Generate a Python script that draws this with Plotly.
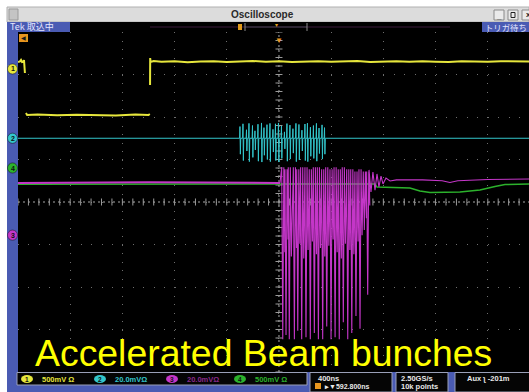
import plotly.graph_objects as go

W, H = 529, 392

# ---------------- acquisition settings ----------------
time_per_div_ns = 400
t_left, t_right = -2000, 1916          # visible time window (ns), trigger at 0

ch_labels = ["1", "2", "3", "4"]
ch_scale_mv = [500, 20.0, 20.0, 500]    # mV / div
ch_pos_div = [3.13, 1.50, -0.78, 0.80]  # ground marker position (div)
ch_colors = ["#e6e63c", "#33c6cc", "#c436c8", "#2cb22c"]
ch_readout = ["500mV Ω", "20.0mVΩ", "20.0mVΩ", "500mV Ω"]

# ---------------- channel 1 (yellow) ----------------
ch1_t = [-2000, -1985, -1977, -1969, -1958, -1954, -1947, None,
         -1939, -1930, -1850, -1700, -1550, -1400, -1250, -1100, -1000, -990, None,
         -988, -987, -984, -960, -900, -800, -700, -600, -500, -400, -300, -200,
         -100, 0, 100, 200, 300, 400, 500, 600, 700, 800, 900, 1000, 1100, 1200,
         1300, 1400, 1500, 1600, 1700, 1800, 1916]
ch1_mv = [82, 90, 106, 82, 86, 106, -47, None,
          -518, -541, -536, -545, -538, -541, -546, -537, -541, -530, None,
          -189, 129, 82, 94, 84, 90, 80, 88, 92, 82, 86, 94,
          84, 90, 82, 88, 92, 84, 86, 94, 82, 88, 90, 84, 92, 86,
          82, 90, 88, 84, 92, 86, 88]

# ---------------- channel 2 (cyan) : bunch pickup burst ----------------
ch2_base_mv = 0.0
ch2_spike_t = [-299, -276, -249, -230, -203, -184, -161, -134, -115, -92,
               -69, -46, -27, -4, 19, 42, 61, 84, 107, 130,
               153, 176, 199, 218, 241, 264, 287, 307, 330, 349]
ch2_spike_up = [5.5, 6.8, 4.0, 7.0, 6.0, 3.5, 6.6, 7.2, 5.0, 6.4,
                7.0, 4.2, 6.8, 7.2, 5.8, 3.0, 6.9, 6.2, 4.5, 7.0,
                6.5, 3.8, 6.7, 7.1, 5.2, 6.0, 7.0, 4.8, 6.3, 5.0]
ch2_spike_dn = [-7.5, -10.5, -6.0, -11.0, -9.0, -5.5, -10.8, -11.2, -8.0, -10.0,
                -11.0, -6.5, -10.5, -11.2, -9.5, -5.0, -10.8, -9.8, -7.0, -11.0,
                -10.2, -6.0, -10.5, -11.0, -8.5, -9.5, -10.8, -7.2, -9.8, -7.5]

# ---------------- channel 3 (magenta) : accelerated bunches ----------------
ch3_base_t = [-2000, -1000, 0, 8]
ch3_base_mv = [24.6, 24.9, 24.6, 24.6]
ch3_bunch_t = [21, 46, 71, 110, 136, 166, 199, 232, 263, 294, 327,
               358, 391, 422, 454, 485, 519, 550, 582, 613, 646, 672]
ch3_bunch_top = [32, 31, 32, 32, 31, 32, 32, 31, 32, 32, 31,
                 32, 31, 32, 31, 32, 31, 31, 30, 31, 30, 30]
ch3_bunch_low = [-49, -47, -49, -49, -45, -49, -48, -49, -46, -49, -49,
                 -43, -49, -48, -49, -41, -49, -46, -38, -44, 2.4, -28]
ch3_bunch_mid = [-8, -2, -10, -6, -4, -11, -7, -3, -9, -6, -10,
                 -5, -2, -8, -11, -4, -7, -9, -3, 0, 8, 14]
ch3_ring_t = [690, 705, 720, 736, 751, 766, 782, 797, 820, 851]
ch3_ring_mv = [30.7, 20.3, 29.7, 21.2, 28.8, 22.7, 27.8, 24.1, 26.9, 25.5]
ch3_tail_t = [900, 1100, 1250, 1310, 1370, 1600, 1916]
ch3_tail_mv = [26.0, 26.0, 25.6, 24.8, 25.6, 26.2, 26.4]

# ---------------- channel 4 (green) ----------------
ch4_t = [-2000, -1000, 0, 500, 736, 751, 1004, 1080, 1157, 1387, 1540, 1655, 1732, 1916]
ch4_mv = [-190, -192, -190, -192, -188, -224, -235, -271, -288, -282, -259, -218, -194, -188]


def to_div(values, ch):
    return [None if v is None else ch_pos_div[ch] + v / ch_scale_mv[ch] for v in values]


# build the burst paths from the per-bunch extremes
def cyan_path():
    t, v = [t_left], [ch2_base_mv]
    for ts, up, dn in zip(ch2_spike_t, ch2_spike_up, ch2_spike_dn):
        t += [ts - 3, ts, ts + 3, ts + 6]
        v += [ch2_base_mv, up, dn, ch2_base_mv]
    t.append(t_right)
    v.append(ch2_base_mv)
    return t, v


def magenta_path():
    t, v = [ch3_base_t[-1]], [ch3_base_mv[-1]]
    for ts, top, lo, mid in zip(ch3_bunch_t, ch3_bunch_top, ch3_bunch_low, ch3_bunch_mid):
        t += [ts, ts + 8, ts + 16, ts + 24]
        v += [top, lo, top, mid]
    t += ch3_ring_t + ch3_tail_t
    v += ch3_ring_mv + ch3_tail_mv
    return t, v


fig = go.Figure()

# graticule: centre-line minor ticks
minor = time_per_div_ns / 5
tick_t = [t_left + k * minor for k in range(int((t_right - t_left) / minor) + 1)]
tick_v = [-4 + k * 0.2 for k in range(41)]
fig.add_trace(go.Scatter(x=tick_t, y=[0] * len(tick_t), mode="markers",
                         marker=dict(symbol="line-ns-open", size=5, color="#9a9a9a",
                                     line=dict(width=1, color="#9a9a9a")),
                         hoverinfo="skip", showlegend=False))
fig.add_trace(go.Scatter(x=[0] * len(tick_v), y=tick_v, mode="markers",
                         marker=dict(symbol="line-ew-open", size=5, color="#9a9a9a",
                                     line=dict(width=1, color="#9a9a9a")),
                         hoverinfo="skip", showlegend=False))

# waveforms
fig.add_trace(go.Scatter(x=ch1_t, y=to_div(ch1_mv, 0), mode="lines",
                         line=dict(color=ch_colors[0], width=2), connectgaps=False,
                         showlegend=False))
ct, cv = cyan_path()
fig.add_trace(go.Scatter(x=ct, y=to_div(cv, 1), mode="lines",
                         line=dict(color=ch_colors[1], width=1), showlegend=False))
fig.add_trace(go.Scatter(x=ch4_t, y=to_div(ch4_mv, 3), mode="lines",
                         line=dict(color=ch_colors[3], width=1.5), showlegend=False))
fig.add_trace(go.Scatter(x=ch3_base_t, y=to_div(ch3_base_mv, 2), mode="lines",
                         line=dict(color=ch_colors[2], width=2), showlegend=False))
mt, mv = magenta_path()
fig.add_trace(go.Scatter(x=mt, y=to_div(mv, 2), mode="lines",
                         line=dict(color=ch_colors[2], width=1.1), showlegend=False))


def px(x):
    return x / W


def py(y):
    return 1 - y / H


BLUE = "#4a5bb3"
shapes = []
ann = []


def rect(x0, y0, x1, y1, fill, line=None, lw=1):
    shapes.append(dict(type="rect", xref="paper", yref="paper",
                       x0=px(x0), x1=px(x1), y0=py(y1), y1=py(y0),
                       fillcolor=fill, line=dict(color=line or fill, width=lw if line else 0),
                       layer="above"))


def text(x, y, s, size, color, anchor="left", bold=False, family="Liberation Sans"):
    ann.append(dict(x=px(x), y=py(y), xref="paper", yref="paper", text=f"<b>{s}</b>" if bold else s,
                    showarrow=False, xanchor=anchor, yanchor="middle",
                    font=dict(size=size, color=color, family=family)))


# window title bar
rect(7, 7, 529, 22, "#dcdcdc", "#b0b0b0")
rect(9, 9, 18, 20, "#c4c4c4", "#9a9a9a")
text(262, 15, "Oscilloscope", 10, "#2a2a2a", "center", bold=True)
rect(494, 10, 504, 20, "#eaeaea", "#8a8a8a")
text(499, 16, "_", 8, "#222", "center", bold=True)
rect(508, 10, 518, 20, "#eaeaea", "#8a8a8a")
rect(511, 12.5, 515, 17.5, "#eaeaea", "#222")
rect(522, 10, 532, 20, "#eaeaea", "#8a8a8a")
text(524, 15, "x", 8, "#222", "left", bold=True)

# record-view status bar
rect(7, 22, 70, 32, BLUE)
rect(70, 22, 482, 32, "#000000")
rect(482, 22, 529, 32, BLUE)
text(8, 27, "Tek 取込中", 9, "#e4e6ff", family="Noto Sans CJK JP")
text(483, 27, "トリガ待ち", 8.4, "#e4e6ff", family="Noto Sans CJK JP")
shapes.append(dict(type="line", xref="paper", yref="paper", x0=px(150), x1=px(450), y0=py(27), y1=py(27),
                   line=dict(color="#3a1a3a", width=1), layer="above"))
shapes.append(dict(type="line", xref="paper", yref="paper", x0=px(245), x1=px(307), y0=py(27), y1=py(27),
                   line=dict(color="#3c3c48", width=1), layer="above"))
for bx in (245, 307):
    shapes.append(dict(type="line", xref="paper", yref="paper", x0=px(bx), x1=px(bx), y0=py(23), y1=py(31),
                       line=dict(color="#8a8a8a", width=1), layer="above"))
rect(238, 24, 242, 30, "#e09a1a")
text(276, 25, "▾", 6, "#e0a020", "center")

# left channel-marker strip
rect(7, 32, 18, 372, BLUE)

# trigger position marker and top-left trigger flag
ann.append(dict(x=0, y=1, xref="x", yref="y domain", text="▼", showarrow=False,
                xanchor="center", yanchor="top", font=dict(size=8, color="#e8961e")))
rect(19, 34, 28, 42, "#e8961e")
text(23.5, 38, "◀", 6, "#1a1a1a", "center")

# channel ground markers
for i in range(4):
    y_div = ch_pos_div[i]
    shapes.append(dict(type="circle", xref="paper", yref="y", x0=px(7.5), x1=px(17.5),
                       y0=y_div - 0.12, y1=y_div + 0.12, fillcolor=ch_colors[i],
                       line=dict(color="#101010", width=0.5), layer="above"))
    ann.append(dict(x=px(12.5), y=y_div, xref="paper", yref="y", text=f"<b>{ch_labels[i]}</b>",
                    showarrow=False, xanchor="center", yanchor="middle",
                    font=dict(size=7, color="#101010", family="Liberation Sans")))

# bottom readout bar
rect(7, 372, 529, 392, BLUE)
shapes.append(dict(type="rect", xref="paper", yref="paper", x0=px(17), x1=px(307), y0=py(385), y1=py(372.5),
                   fillcolor="#050505", line=dict(color="#9aa0b8", width=1), layer="above"))
badge_x = [27, 100, 172, 240]
for i in range(4):
    shapes.append(dict(type="circle", xref="paper", yref="paper", x0=px(badge_x[i] - 6), x1=px(badge_x[i] + 6),
                       y0=py(383), y1=py(375), fillcolor=ch_colors[i], line=dict(width=0), layer="above"))
    text(badge_x[i], 379, f"<b>{ch_labels[i]}</b>", 6.5, "#101010", "center")
    text(badge_x[i] + 13, 379, ch_readout[i], 7.5, "#8a2a8a" if i == 2 else ch_colors[i], bold=True)

rect(310, 372.5, 392, 392, "#050505", "#9aa0b8")
text(316, 378, f"{time_per_div_ns}ns", 7.5, "#e8e8e8", bold=True)
rect(315, 383, 321, 389, "#e8961e")
text(322, 386.5, "▸▼592.800ns", 7, "#e8e8e8", bold=True)
rect(396, 372.5, 448, 392, "#050505", "#9aa0b8")
text(399, 378, "2.50GS/s", 7.5, "#e8e8e8", bold=True)
text(399, 386.5, "10k points", 7.5, "#e8e8e8", bold=True)
rect(455, 372.5, 535, 392, "#050505", "#9aa0b8")
text(465, 378, "Aux ʅ -201m", 7.5, "#e8e8e8", bold=True)

# caption
ann.append(dict(x=px(263), y=py(353), xref="paper", yref="paper", text="Accelerated Beam bunches",
                showarrow=False, xanchor="center", yanchor="middle",
                font=dict(size=37.4, color="#ffff00", family="Liberation Sans")))

# graticule centre lines
shapes.append(dict(type="line", xref="x", yref="y", x0=0, x1=0, y0=-4, y1=4,
                   line=dict(color="#a8a8a8", width=1, dash="2px,3px"), layer="below"))
shapes.append(dict(type="line", xref="x", yref="y", x0=t_left, x1=t_right, y0=0, y1=0,
                   line=dict(color="#a8a8a8", width=1, dash="2px,3px"), layer="below"))

fig.update_layout(
    width=W, height=H, margin=dict(l=0, r=0, t=0, b=0),
    paper_bgcolor="#ffffff", plot_bgcolor="#000000",
    shapes=shapes, annotations=ann, showlegend=False,
    xaxis=dict(domain=[px(18), 1], range=[t_left, t_right], tick0=t_left, dtick=time_per_div_ns,
               showgrid=True, gridcolor="#6e6e6e", gridwidth=1, griddash="1px,7.5px",
               zeroline=False, showticklabels=False, ticks="", showline=False),
    yaxis=dict(domain=[py(372), py(32)], range=[-4, 4], tick0=-4, dtick=1,
               showgrid=True, gridcolor="#6e6e6e", gridwidth=1, griddash="1px,9.44px",
               zeroline=False, showticklabels=False, ticks="", showline=False),
)

fig.write_html("out.html")
